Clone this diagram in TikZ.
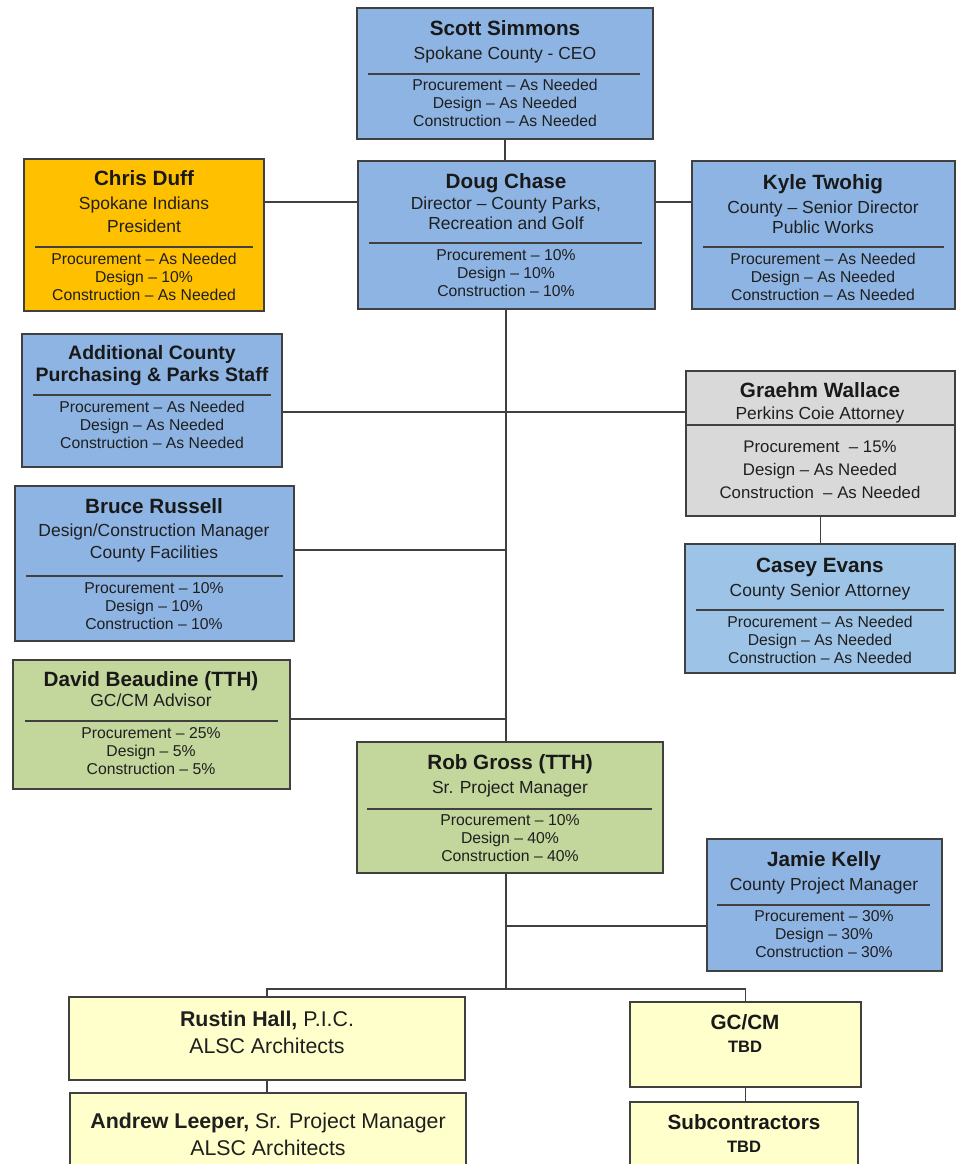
\documentclass[tikz,border=0pt]{standalone}
\usepackage{fontspec}
\setmainfont{Liberation Sans}
\usetikzlibrary{fit,calc}
\definecolor{boxblue}{RGB}{141,180,226}
\definecolor{boxlightblue}{RGB}{157,195,230}
\definecolor{boxorange}{RGB}{255,192,0}
\definecolor{boxgrey}{RGB}{217,217,217}
\definecolor{boxgreen}{RGB}{195,214,155}
\definecolor{boxyellow}{RGB}{255,255,204}
\definecolor{edgegrey}{RGB}{64,64,64}
\tikzset{
  person/.style={draw=edgegrey, line width=1pt, inner sep=0pt},
  pname/.style={inner sep=0pt, text depth=0pt, align=center, text=black!90,
    font=\bfseries\fontsize{15.5}{16.5}\selectfont},
  prole/.style={inner sep=0pt, text depth=0pt, align=center, text=black!88,
    font=\fontsize{13.1}{15}\selectfont},
  pload/.style={inner sep=0pt, text depth=0pt, align=center, text=black!88,
    font=\fontsize{11.8}{13.5}\selectfont},
  divider/.style={draw=edgegrey, line width=0.8pt},
  link/.style={draw=edgegrey, line width=0.8pt},
}

\begin{document}
\begin{tikzpicture}[x=0.75pt,y=-0.75pt]
        \clip (0,0) rectangle (956,1164);
        % boxes
        \node[person, fill=boxblue, fit={(357,8) (653,139)}] (scott) {};
        \node[person, fill=boxblue, fit={(358,161) (655,309)}] (chase) {};
        \node[person, fill=boxorange, fit={(24,159) (264,311)}] (duff) {};
        \node[person, fill=boxblue, fit={(692,161) (955,309)}] (twohig) {};
        \node[person, fill=boxblue, fit={(22,334) (282,467)}] (staff) {};
        \node[person, fill=boxgrey, fit={(686,371) (955,516)}] (wallace) {};
        \node[person, fill=boxlightblue, fit={(685,544) (955,673)}] (evans) {};
        \node[person, fill=boxblue, fit={(15,486) (294,641)}] (russell) {};
        \node[person, fill=boxgreen, fit={(13,660) (290,789)}] (beaudine) {};
        \node[person, fill=boxgreen, fit={(357,742) (663,873)}] (gross) {};
        \node[person, fill=boxblue, fit={(707,839) (942,971)}] (kelly) {};
        \node[person, fill=boxyellow, fit={(69,997) (465,1080)}] (hall) {};
        \node[person, fill=boxyellow, fit={(70,1093) (466,1185)}] (leeper) {};
        \node[person, fill=boxyellow, fit={(630,1002) (861,1087)}] (gccm) {};
        \node[person, fill=boxyellow, fit={(630,1102) (858,1185)}] (subs) {};
        % dividers
        \draw[divider] (368,74) -- (640,74);
        \draw[divider] (369,243) -- (642,243);
        \draw[divider] (35,247) -- (253,247);
        \draw[divider] (703,247) -- (944,247);
        \draw[divider] (33,395) -- (271,395);
        \draw[divider] (wallace.west |- 0,425) -- (wallace.east |- 0,425);
        \draw[divider] (696,610) -- (944,610);
        \draw[divider] (26,576) -- (283,576);
        \draw[divider] (25,721) -- (278,721);
        \draw[divider] (367,809) -- (652,809);
        \draw[divider] (717,905) -- (930,905);
        % texts
        \node[pname] (scott-n) at (505,28) {Scott Simmons};
        \node[prole] (scott-r) at (505,53) {Spokane County - CEO};
        \node[pload] (scott-l) at (505,103) {Procurement – As Needed\\Design – As Needed\\Construction – As Needed};
        \node[pname] (chase-n) at (506,181) {Doug Chase};
        \node[prole] (chase-r) at (506,213) {Director – County Parks,\\Recreation and Golf};
        \node[pload] (chase-l) at (506,273) {Procurement – 10\%\\Design – 10\%\\Construction – 10\%};
        \node[pname] (duff-n) at (144,178) {Chris Duff};
        \node[prole, font=\fontsize{13.1}{17.5}\selectfont] (duff-r) at (144,214.5) {Spokane Indians\\President};
        \node[pload] (duff-l) at (144,277) {Procurement – As Needed\\Design – 10\%\\Construction – As Needed};
        \node[pname] (twohig-n) at (823,182) {Kyle Twohig};
        \node[prole] (twohig-r) at (823,217) {County – Senior Director\\Public Works};
        \node[pload] (twohig-l) at (823,277) {Procurement – As Needed\\Design – As Needed\\Construction – As Needed};
        \node[pname, font=\bfseries\fontsize{14.6}{16.5}\selectfont] (staff-n) at (152,363) {Additional County\\Purchasing \& Parks Staff};
        \node[pload] (staff-l) at (152,425) {Procurement – As Needed\\Design – As Needed\\Construction – As Needed};
        \node[pname] (wallace-n) at (820,390) {Graehm Wallace};
        \node[prole] (wallace-r) at (820,413) {Perkins Coie Attorney};
        \node[pload, font=\fontsize{12.6}{17.25}\selectfont] (wallace-l) at (820,470) {Procurement \ – 15\%\\Design – As Needed\\Construction \ – As Needed};
        \node[pname] (evans-n) at (820,565) {Casey Evans};
        \node[prole] (evans-r) at (820,590) {County Senior Attorney};
        \node[pload] (evans-l) at (820,640) {Procurement – As Needed\\Design – As Needed\\Construction – As Needed};
        \node[pname] (russell-n) at (154,506) {Bruce Russell};
        \node[prole, font=\fontsize{13.1}{16.5}\selectfont] (russell-r) at (154,541) {Design/Construction Manager\\County Facilities};
        \node[pload] (russell-l) at (154,606) {Procurement – 10\%\\Design – 10\%\\Construction – 10\%};
        \node[pname] (beaudine-n) at (151,679) {David Beaudine (TTH)};
        \node[prole] (beaudine-r) at (151,700) {GC/CM Advisor};
        \node[pload] (beaudine-l) at (151,751) {Procurement – 25\%\\Design – 5\%\\Construction – 5\%};
        \node[pname] (gross-n) at (510,762) {Rob Gross (TTH)};
        \node[prole] (gross-r) at (510,787) {Sr. Project Manager};
        \node[pload] (gross-l) at (510,838) {Procurement – 10\%\\Design – 40\%\\Construction – 40\%};
        \node[pname] (kelly-n) at (824,859) {Jamie Kelly};
        \node[prole] (kelly-r) at (824,884) {County Project Manager};
        \node[pload] (kelly-l) at (824,934) {Procurement – 30\%\\Design – 30\%\\Construction – 30\%};
        \node[prole, font=\fontsize{16}{20.5}\selectfont] (hall-t) at (267,1032) {\textbf{Rustin Hall,} P.I.C.\\ALSC Architects};
        \node[prole, font=\fontsize{16}{20.5}\selectfont] (leeper-t) at (268,1134.5) {\textbf{Andrew Leeper,} Sr. Project Manager\\ALSC Architects};
        \node[pname] (gccm-n) at (745,1022) {GC/CM};
        \node[pname, font=\bfseries\fontsize{12.4}{14}\selectfont] (gccm-t) at (745,1047) {TBD};
        \node[pname] (subs-n) at (744,1122) {Subcontractors};
        \node[pname, font=\bfseries\fontsize{12.4}{14}\selectfont] (subs-t) at (744,1147) {TBD};
        % junctions
        \coordinate (j1) at (506,202);
        \coordinate (j2) at (506,412);
        \coordinate (j3) at (506,550);
        \coordinate (j4) at (506,719);
        \coordinate (j5) at (506,926);
        \coordinate (bus) at (506,989);
        % connectors
        \draw[link] (scott.south) -- (scott.south |- chase.north);
        \draw[link] (duff.east |- j1) -- (chase.west |- j1);
        \draw[link] (chase.east |- j1) -- (twohig.west |- j1);
        \draw[link] (j1 |- chase.south) -- (j1 |- gross.north);
        \draw[link] (staff.east |- j2) -- (wallace.west |- j2);
        \draw[link] (wallace.south) -- (wallace.south |- evans.north);
        \draw[link] (russell.east |- j3) -- (j3);
        \draw[link] (beaudine.east |- j4) -- (j4);
        \draw[link] (j1 |- gross.south) -- (bus);
        \draw[link] (j5) -- (kelly.west |- j5);
        \draw[link] (hall.north) |- (bus) -| (gccm.north);
        \draw[link] (hall.south) -- (hall.south |- leeper.north);
        \draw[link] (gccm.south) -- (gccm.south |- subs.north);
\end{tikzpicture}
\end{document}
